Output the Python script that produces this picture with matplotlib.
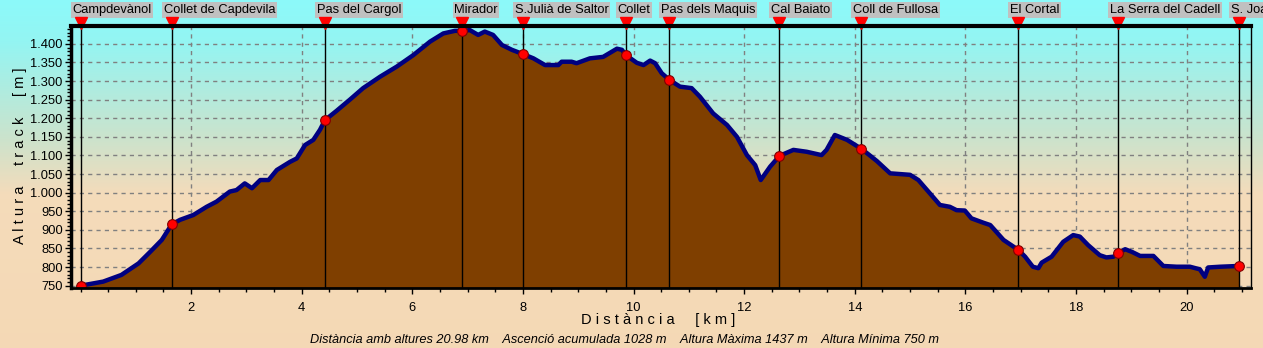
import numpy as np
import matplotlib
matplotlib.use("Agg")
import matplotlib.pyplot as plt
from matplotlib.ticker import FuncFormatter, MultipleLocator

plt.rcParams['font.family'] = ['Liberation Sans', 'DejaVu Sans']

# profile (km, m)
dist = [0.00, 0.41, 0.74, 1.05, 1.26, 1.47, 1.65, 1.80, 2.04, 2.28, 2.46, 2.70, 2.82,
        2.97, 3.10, 3.25, 3.40, 3.55, 3.79, 3.91, 4.06, 4.21, 4.33, 4.42, 4.63, 4.87,
        5.11, 5.42, 5.72, 6.02, 6.32, 6.56, 6.77, 6.90, 7.04, 7.19, 7.31, 7.46, 7.62,
        7.80, 8.01, 8.19, 8.40, 8.64, 8.70, 8.88, 8.97, 9.21, 9.45, 9.70, 9.79, 9.86,
        10.06, 10.18, 10.30, 10.39, 10.51, 10.65, 10.84, 11.05, 11.20, 11.44, 11.69,
        11.87, 12.05, 12.20, 12.30, 12.47, 12.64, 12.89, 13.13, 13.40, 13.49, 13.64,
        13.86, 14.13, 14.40, 14.64, 15.00, 15.15, 15.36, 15.54, 15.72, 15.84, 15.99,
        16.11, 16.33, 16.45, 16.69, 16.96, 17.08, 17.22, 17.32, 17.38, 17.56, 17.77,
        17.95, 18.07, 18.22, 18.43, 18.55, 18.68, 18.77, 18.89, 19.01, 19.16, 19.40,
        19.58, 19.82, 20.06, 20.24, 20.33, 20.39, 20.61, 20.94]
elev = [750, 761, 779, 810, 841, 873, 915, 927, 940, 962, 976, 1003, 1007,
        1025, 1012, 1034, 1034, 1061, 1083, 1092, 1128, 1142, 1169, 1195, 1220, 1250,
        1281, 1312, 1339, 1370, 1406, 1428, 1435, 1435, 1437, 1424, 1433, 1424, 1397,
        1384, 1372, 1361, 1343, 1343, 1352, 1352, 1348, 1361, 1365, 1387, 1384, 1370,
        1349, 1343, 1355, 1348, 1321, 1303, 1285, 1281, 1258, 1213, 1182,
        1150, 1101, 1074, 1034, 1070, 1099, 1115, 1110, 1101, 1115, 1155,
        1142, 1117, 1085, 1052, 1048, 1034, 998, 967, 962, 953, 952,
        931, 919, 913, 873, 846, 828, 801, 797, 812, 828, 868,
        886, 882, 859, 832, 826, 828, 838, 848, 841, 830, 830,
        803, 801, 801, 794, 774, 799, 801, 803]

wp_names = ["Campdevànol", "Collet de Capdevila", "Pas del Cargol", "Mirador",
            "S.Julià de Saltor", "Collet", "Pas dels Maquis", "Cal Baiato",
            "Coll de Fullosa", "El Cortal", "La Serra del Cadell", "S. Joan"]
wp_dist = [0.00, 1.65, 4.42, 6.90, 8.00, 9.86, 10.64, 12.63, 14.11, 16.95, 18.76, 20.94]
wp_elev = [750, 915, 1195, 1435, 1372, 1370, 1303, 1099, 1117, 846, 838, 803]

stats = "Distància amb altures 20.98 km    Ascenció acumulada 1028 m    Altura Màxima 1437 m    Altura Mínima 750 m"

ymin, ymax = 743.8, 1448
xmin, xmax = -0.172, 21.165

fig = plt.figure(figsize=(12.63, 3.48), dpi=100)

# background gradient cyan -> peach
bg = fig.add_axes([0, 0, 1, 1], zorder=-10)
t = np.linspace(0, 1, 348)
stops = [0.0, 0.12, 0.40, 0.56, 1.0]
cols = np.array([[0.55, 0.98, 0.98], [0.58, 0.96, 0.95], [0.80, 0.89, 0.80],
                 [0.96, 0.86, 0.73], [0.96, 0.85, 0.71]])
grad = np.stack([np.interp(t, stops, cols[:, c]) for c in range(3)], axis=1)
bg.imshow(grad[:, None, :], aspect='auto', extent=[0, 1, 0, 1])
bg.axis('off')

ax = fig.add_axes([71 / 1263, 1 - 288 / 348, 1180 / 1263, 262 / 348])
ax.set_facecolor('none')
ax.set_xlim(xmin, xmax)
ax.set_ylim(ymin, ymax)

ax.fill_between(dist, elev, ymin, color='#7f3f00', lw=0, zorder=2)
ax.plot(dist, elev, color='#000080', lw=3.2, zorder=4, solid_joinstyle='round')

ax.vlines(wp_dist, ymin, ymax, color='black', lw=1, zorder=3)
ax.plot(wp_dist, wp_elev, 'o', ms=7, mfc='red', mec='#800000', mew=0.8, zorder=5)

for x, name in zip(wp_dist, wp_names):
    ax.plot([x], [1.012], marker='v', ms=9, color='red', mec='red',
            transform=ax.get_xaxis_transform(), clip_on=False, zorder=6)
    ax.annotate(name, xy=(x, 1.0), xycoords=('data', 'axes fraction'),
                xytext=(-8, 16), textcoords='offset pixels', ha='left', va='center',
                fontsize=9.3, annotation_clip=False,
                bbox=dict(boxstyle='square,pad=0.12', fc='#c0c0c0', ec='none'))

ax.xaxis.set_minor_locator(MultipleLocator(0.5))
ax.set_xticks(np.arange(2, 21, 2))
ax.yaxis.set_minor_locator(MultipleLocator(10))
ax.set_yticks(np.arange(750, 1401, 50))
ax.yaxis.set_major_formatter(FuncFormatter(lambda v, p: f"{int(v):,}".replace(",", ".")))
ax.tick_params(axis='both', which='major', labelsize=9.3, length=4, width=1, pad=2)
ax.tick_params(axis='both', which='minor', length=3, width=1)
ax.tick_params(axis='x', pad=6)

ax.grid(True, which='major', color='#808080', ls=(0, (3, 3)), lw=1, zorder=1)
ax.set_axisbelow(True)

ax.spines['top'].set_linewidth(3)
ax.spines['left'].set_linewidth(2.5)
ax.spines['bottom'].set_linewidth(2)
ax.spines['right'].set_linewidth(1)
for s in ax.spines.values():
    s.set_zorder(7)

fig.text(658 / 1263, 1 - 320 / 348, "D i s t à n c i a     [ k m ]", ha='center', va='center', fontsize=10.5)
fig.text(20 / 1263, 1 - 156 / 348, "A l t u r a     t r a c k     [ m ]", ha='center', va='center',
         rotation=90, fontsize=10.5)
fig.text(625 / 1263, 1 - 340 / 348, stats, ha='center', va='center', fontsize=9.2, style='italic')

fig.savefig("out.png", dpi=100)
